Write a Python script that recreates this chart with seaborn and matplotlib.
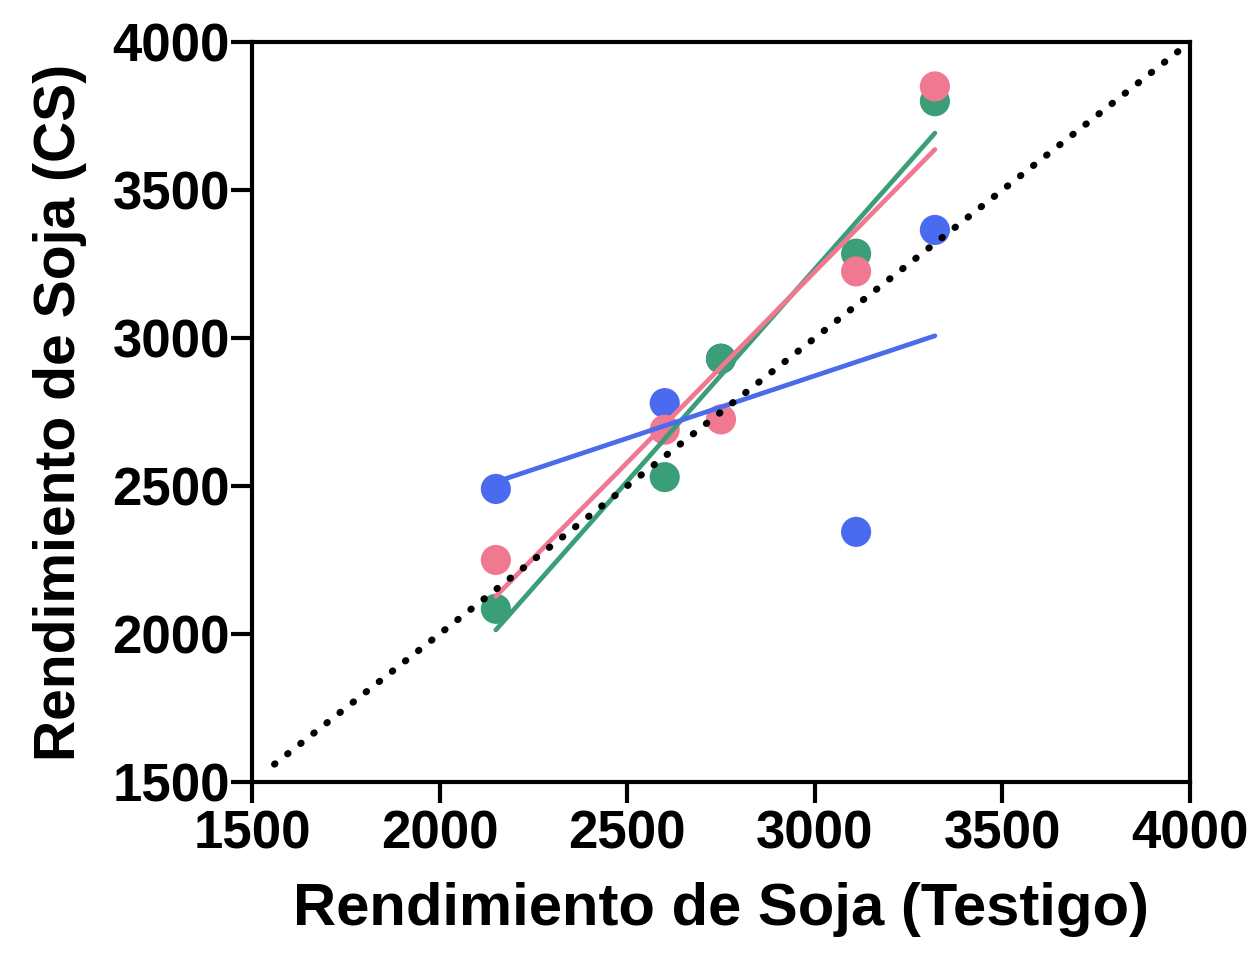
import numpy as np
import pandas as pd
import matplotlib
matplotlib.use("Agg")
import matplotlib.pyplot as plt
import seaborn as sns

# Soybean yield: control (Testigo) vs. cover-crop treatment (CS)
testigo = [2150, 2600, 2750, 3110, 3320]
cs_azul = [2490, 2780, 2930, 2345, 3365]
cs_verde = [2085, 2530, 2930, 3285, 3800]
cs_rosa = [2250, 2690, 2725, 3225, 3850]

series = ["azul", "verde", "rosa"]
colores = {"azul": "#4A6AF0", "verde": "#3A9E78", "rosa": "#F07890"}
valores = {"azul": cs_azul, "verde": cs_verde, "rosa": cs_rosa}

df = pd.concat(
    [pd.DataFrame({"testigo": testigo, "cs": valores[s], "serie": s}) for s in series],
    ignore_index=True,
)

sns.set_style("ticks")
plt.rcParams["font.family"] = ["Liberation Sans", "DejaVu Sans"]
plt.rcParams["font.weight"] = "bold"
plt.rcParams["text.color"] = "black"
plt.rcParams["xtick.color"] = "black"
plt.rcParams["ytick.color"] = "black"
plt.rcParams["axes.labelcolor"] = "black"

fig = plt.figure(figsize=(12.56, 9.57), dpi=100)
ax = fig.add_axes([0.2006, 0.1829, 0.7469, 0.7732])

# points
for s in series:
    sub = df[df["serie"] == s]
    sns.scatterplot(data=sub, x="testigo", y="cs", color=colores[s], s=470,
                    edgecolor="none", ax=ax, zorder=2, legend=False)

# fitted regression lines
for s in ["verde", "rosa", "azul"]:
    sub = df[df["serie"] == s]
    sns.regplot(data=sub, x="testigo", y="cs", ci=None, scatter=False,
                truncate=True, color=colores[s],
                line_kws={"linewidth": 3.4, "zorder": 3}, ax=ax)

# 1:1 reference line
ident = np.array([1560, 4000])
ax.plot(ident, ident, linestyle=(0, (0.1, 2.3)), color="black", linewidth=5,
        dash_capstyle="round", zorder=4)

ax.set_xlim(1500, 4000)
ax.set_ylim(1500, 4000)
ticks = [1500, 2000, 2500, 3000, 3500, 4000]
ax.set_xticks(ticks)
ax.set_yticks(ticks)
ax.set_xticklabels([str(t) for t in ticks], fontsize=38, fontweight="bold")
ax.set_yticklabels([str(t) for t in ticks], fontsize=38, fontweight="bold")

for sp in ax.spines.values():
    sp.set_visible(True)
    sp.set_linewidth(3)
    sp.set_color("black")
ax.tick_params(axis="both", direction="out", length=15, width=3, color="black")
ax.tick_params(axis="x", pad=5)
ax.tick_params(axis="y", pad=1)
ax.tick_params(top=False, right=False)

ax.set_xlabel("Rendimiento de Soja (Testigo)", fontsize=43, fontweight="bold",
              labelpad=16)
ax.set_ylabel("Rendimiento de Soja (CS)", fontsize=41, fontweight="bold",
              labelpad=18)

fig.savefig("out.png", dpi=100, facecolor="white")
